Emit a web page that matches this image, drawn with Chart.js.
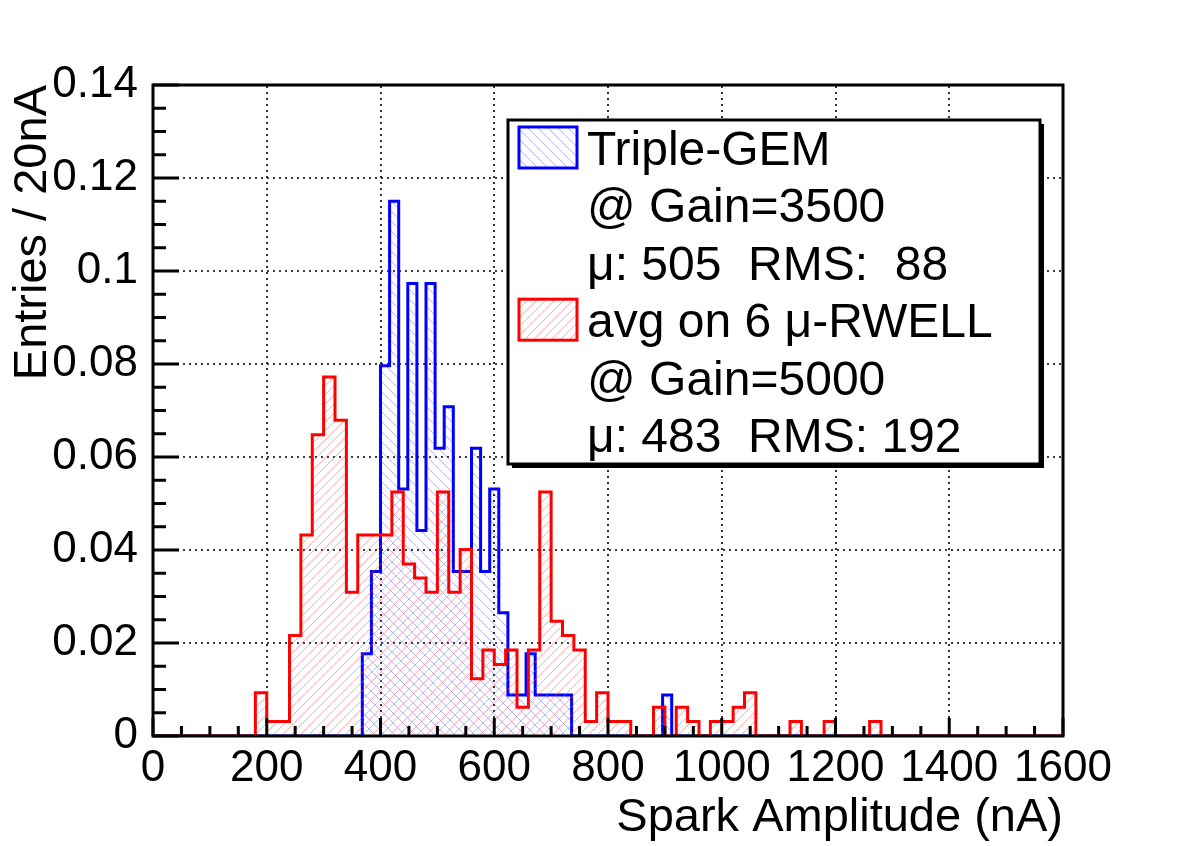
<!DOCTYPE html>
<html>
<head>
<meta charset="utf-8">
<script src="https://cdn.jsdelivr.net/npm/chart.js@4.4.1/dist/chart.umd.min.js"></script>
<style>
  html, body { margin: 0; padding: 0; background: #ffffff; }
  canvas { display: block; }
</style>
</head>
<body>
<canvas id="c" width="1182" height="846"></canvas>
<script>
// ---------------- data ----------------
const xMin = 0, xMax = 1600;
const yMin = 0, yMax = 0.14;

// avg on 6 µ-RWELL : 20 nA bins starting at 0 nA (normalised)
const redBinWidth = 20;
const redValues = [
  0, 0, 0, 0, 0, 0, 0, 0, 0, 0.0093,          // 0 - 200
  0.0031, 0.0031, 0.0216, 0.0432, 0.0648, 0.0772, 0.0679, 0.0309, 0.0432, 0.0432, // 200 - 400
  0.0432, 0.0525, 0.0370, 0.0340, 0.0309, 0.0525, 0.0309, 0.0401, 0.0123, 0.0185, // 400 - 600
  0.0154, 0.0185, 0.0062, 0.0185, 0.0525, 0.0247, 0.0216, 0.0185, 0.0031, 0.0093, // 600 - 800
  0.0031, 0.0031, 0, 0, 0.0062, 0, 0.0062, 0.0031, 0, 0.0031,                     // 800 - 1000
  0.0031, 0.0062, 0.0093, 0, 0, 0, 0.0031, 0, 0, 0.0031,                          // 1000 - 1200
  0, 0, 0, 0.0031, 0, 0, 0, 0, 0, 0,                                              // 1200 - 1400
  0, 0, 0, 0, 0, 0, 0, 0, 0, 0                                                    // 1400 - 1600
];

// Triple-GEM : 16 nA bins starting at 0 nA (normalised)
const blueBinWidth = 16;
const blueValues = [
  0, 0, 0, 0, 0, 0, 0, 0, 0, 0,                                                   // 0 - 160
  0, 0, 0, 0, 0, 0, 0, 0, 0, 0,                                                   // 160 - 320
  0, 0, 0, 0.0177, 0.0354, 0.0796, 0.1150, 0.0531, 0.0973, 0.0442,                // 320 - 480
  0.0973, 0.0619, 0.0708, 0.0354, 0.0354, 0.0619, 0.0354, 0.0531, 0.0265, 0.0088, // 480 - 640
  0.0088, 0.0177, 0.0088, 0.0088, 0.0088, 0.0088, 0, 0, 0, 0,                     // 640 - 800
  0, 0, 0, 0, 0, 0, 0.0088, 0, 0, 0,                                              // 800 - 960
  0, 0, 0, 0, 0, 0, 0, 0, 0, 0,
  0, 0, 0, 0, 0, 0, 0, 0, 0, 0,
  0, 0, 0, 0, 0, 0, 0, 0, 0, 0,
  0, 0, 0, 0, 0, 0, 0, 0, 0, 0
];

const xTickLabels = ['0', '200', '400', '600', '800', '1000', '1200', '1400', '1600'];
const yTickLabels = ['0', '0.02', '0.04', '0.06', '0.08', '0.1', '0.12', '0.14'];

const xTitle = 'Spark Amplitude (nA)';
const yTitle = 'Entries / 20nA';

const blueLegend = ['Triple-GEM', '@ Gain=3500', 'μ: 505  RMS:  88'];
const redLegend = ['avg on 6 μ-RWELL', '@ Gain=5000', 'μ: 483  RMS: 192'];

// ---------------- helpers ----------------
const FONT = '"Liberation Sans", Arial, Helvetica, sans-serif';

function toSteps(values, width) {
  // one point per bin at its left edge, plus the closing right edge
  const pts = values.map((v, i) => ({ x: i * width, y: v }));
  pts.push({ x: values.length * width, y: values[values.length - 1] });
  return pts;
}

function hatch(color, dir, size) {
  const c = document.createElement('canvas');
  c.width = size; c.height = size;
  const g = c.getContext('2d');
  g.strokeStyle = color;
  g.lineWidth = 1;
  g.beginPath();
  if (dir === '/') {
    g.moveTo(-2, size + 2); g.lineTo(size + 2, -2);
    g.moveTo(-2, 2); g.lineTo(2, -2);
    g.moveTo(size - 2, size + 2); g.lineTo(size + 2, size - 2);
  } else {
    g.moveTo(-2, -2); g.lineTo(size + 2, size + 2);
    g.moveTo(size - 2, -2); g.lineTo(size + 2, 2);
    g.moveTo(-2, size - 2); g.lineTo(2, size + 2);
  }
  g.stroke();
  return document.getElementById('c').getContext('2d').createPattern(c, 'repeat');
}

const redPattern = hatch('rgba(255,90,90,0.5)', '/', 9);
const bluePattern = hatch('rgba(70,70,255,0.4)', '\\', 10);

// ---------------- custom drawing (ROOT look) ----------------
const rootStyle = {
  id: 'rootStyle',
  beforeDatasetsDraw(chart) {
    const { ctx, chartArea: a, scales: { x, y } } = chart;
    ctx.save();
    ctx.strokeStyle = '#000';
    ctx.lineWidth = 1.6;
    ctx.setLineDash([2, 4]);
    x.ticks.forEach(t => {
      if (t.value <= xMin || t.value >= xMax) return;
      const px = Math.round(x.getPixelForValue(t.value));
      ctx.beginPath(); ctx.moveTo(px, a.bottom); ctx.lineTo(px, a.top); ctx.stroke();
    });
    y.ticks.forEach(t => {
      if (t.value <= yMin + 1e-9 || t.value >= yMax - 1e-9) return;
      const py = Math.round(y.getPixelForValue(t.value));
      ctx.beginPath(); ctx.moveTo(a.left, py); ctx.lineTo(a.right, py); ctx.stroke();
    });
    ctx.restore();
  },
  afterDatasetsDraw(chart) {
    const { ctx, chartArea: a, scales: { x, y } } = chart;
    ctx.save();
    ctx.strokeStyle = '#000';
    ctx.lineWidth = 3;
    ctx.setLineDash([]);
    // x ticks (inside)
    for (let v = xMin; v <= xMax + 1e-9; v += 50) {
      const px = x.getPixelForValue(v);
      const len = (Math.round(v) % 200 === 0) ? 18 : 10;
      ctx.beginPath(); ctx.moveTo(px, a.bottom); ctx.lineTo(px, a.bottom - len); ctx.stroke();
    }
    // y ticks (inside)
    for (let k = 0; k <= 28; k++) {
      const v = k * 0.005;
      const py = y.getPixelForValue(v);
      const len = (k % 4 === 0) ? 26 : 13;
      ctx.beginPath(); ctx.moveTo(a.left, py); ctx.lineTo(a.left + len, py); ctx.stroke();
    }
    // frame
    ctx.lineWidth = 3;
    ctx.strokeRect(a.left, a.top, a.right - a.left, a.bottom - a.top);
    ctx.restore();
  },
  afterDraw(chart) {
    const { ctx, chartArea: a } = chart;
    ctx.save();
    ctx.fillStyle = '#000';
    ctx.font = '47px ' + FONT;
    // x title
    ctx.textAlign = 'right';
    ctx.textBaseline = 'alphabetic';
    ctx.fillText(xTitle, a.right, 831);
    // y title
    ctx.save();
    ctx.translate(46, a.top);
    ctx.rotate(-Math.PI / 2);
    ctx.textAlign = 'right';
    ctx.fillText(yTitle, 0, 0);
    ctx.restore();

    // legend
    const L = 508, T = 120, W = 532, H = 344;
    ctx.fillStyle = '#000';
    ctx.fillRect(L + 4, T + 4, W, H);
    ctx.fillStyle = '#fff';
    ctx.fillRect(L, T, W, H);
    ctx.lineWidth = 3;
    ctx.strokeStyle = '#000';
    ctx.strokeRect(L, T, W, H);

    ctx.font = '48px ' + FONT;
    const rowStep = 57.4;
    const firstBase = 165;
    const entries = [
      { color: '#0000ff', pattern: bluePattern, lines: blueLegend },
      { color: '#ff0000', pattern: redPattern, lines: redLegend }
    ];
    ctx.textAlign = 'left';
    ctx.textBaseline = 'alphabetic';
    let row = 0;
    entries.forEach(e => {
      const base = firstBase + row * rowStep;
      const sy = base - 38;
      ctx.fillStyle = '#fff';
      ctx.fillRect(519, sy, 58, 41);
      ctx.fillStyle = e.pattern;
      ctx.fillRect(519, sy, 58, 41);
      ctx.strokeStyle = e.color;
      ctx.lineWidth = 3;
      ctx.strokeRect(519, sy, 58, 41);
      ctx.fillStyle = '#000';
      e.lines.forEach((txt, i) => {
        ctx.fillText(txt, 587, firstBase + (row + i) * rowStep);
      });
      row += e.lines.length;
    });
    ctx.restore();
  }
};

// ---------------- chart ----------------
new Chart(document.getElementById('c'), {
  type: 'line',
  data: {
    datasets: [
      {
        label: 'avg on 6 μ-RWELL',
        data: toSteps(redValues, redBinWidth),
        stepped: 'before',
        borderColor: '#ff0000',
        borderWidth: 3,
        backgroundColor: redPattern,
        fill: 'origin',
        pointRadius: 0,
        order: 0
      },
      {
        label: 'Triple-GEM',
        data: toSteps(blueValues, blueBinWidth),
        stepped: 'before',
        borderColor: '#0000ff',
        borderWidth: 3,
        backgroundColor: bluePattern,
        fill: 'origin',
        pointRadius: 0,
        order: 1
      }
    ]
  },
  options: {
    responsive: false,
    animation: false,
    events: [],
    layout: { padding: { left: 0, top: 85, right: 119, bottom: 0 } },
    plugins: { legend: { display: false }, tooltip: { enabled: false }, title: { display: false } },
    scales: {
      x: {
        type: 'linear',
        min: xMin, max: xMax,
        grid: { display: false, drawTicks: false },
        border: { display: false },
        ticks: {
          stepSize: 200,
          autoSkip: false,
          maxRotation: 0,
          padding: 6,
          color: '#000',
          font: { family: FONT, size: 44 },
          callback: (v, i) => xTickLabels[i]
        },
        afterFit: s => { s.height = 110; }
      },
      y: {
        type: 'linear',
        min: yMin, max: yMax,
        grid: { display: false, drawTicks: false },
        border: { display: false },
        ticks: {
          stepSize: 0.02,
          padding: 15,
          color: '#000',
          font: { family: FONT, size: 44 },
          callback: (v, i) => yTickLabels[i]
        },
        afterFit: s => { s.width = 153; }
      }
    }
  },
  plugins: [rootStyle]
});
</script>
</body>
</html>
